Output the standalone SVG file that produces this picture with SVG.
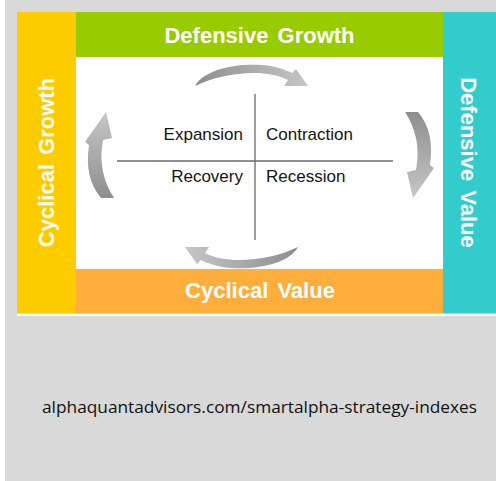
<svg xmlns="http://www.w3.org/2000/svg" width="496" height="481" viewBox="0 0 496 481">
  <style>
    .band { font-family: "Liberation Sans", Arial, sans-serif; font-weight: bold; font-size: 22px; fill: #ffffff; word-spacing: 3px; }
    .phase { font-family: "Liberation Sans", Arial, sans-serif; font-size: 17px; fill: #141414; }
    .url { font-family: "Open Sans", "Noto Sans", sans-serif; font-size: 16px; fill: #111111; }
    .axis { stroke: #6a6a6a; fill: none; }
  </style>
  <defs>
    <linearGradient id="gH" x1="0" y1="0" x2="1" y2="0">
      <stop offset="0" stop-color="#8e8e8e"/>
      <stop offset="1" stop-color="#c6c6c6"/>
    </linearGradient>
    <linearGradient id="gV" x1="0" y1="0" x2="0" y2="1">
      <stop offset="0" stop-color="#8e8e8e"/>
      <stop offset="1" stop-color="#c6c6c6"/>
    </linearGradient>
  </defs>

  <!-- page background -->
  <rect x="0" y="0" width="496" height="481" fill="#ffffff"/>
  <rect x="5" y="0" width="491" height="481" fill="#d9d9d9"/>
  <rect x="17" y="12" width="479" height="304" fill="#ffffff"/>

  <g id="cyclical-growth">
    <rect x="17" y="12" width="59" height="301.5" fill="#ffcc00"/>
    <text class="band" transform="translate(53.5 162.5) rotate(-90)" text-anchor="middle">Cyclical Growth</text>
  </g>
  <g id="defensive-growth">
    <rect x="76" y="12" width="367" height="45" fill="#99cc00"/>
    <text class="band" x="259.5" y="43" text-anchor="middle">Defensive Growth</text>
  </g>
  <g id="defensive-value">
    <rect x="443" y="12" width="53" height="301.5" fill="#33cccc"/>
    <text class="band" transform="translate(461 162.5) rotate(90)" text-anchor="middle">Defensive Value</text>
  </g>
  <g id="cyclical-value">
    <rect x="76" y="269" width="367" height="44.5" fill="#fdae3b"/>
    <text class="band" x="260" y="298" text-anchor="middle">Cyclical Value</text>
  </g>

  <g id="quadrants">
    <line class="axis" x1="255" y1="94" x2="255" y2="240" stroke-width="1.3"/>
    <line class="axis" x1="117" y1="161" x2="393" y2="161" stroke-width="1.6" stroke="#808080"/>
    <g id="expansion"><text class="phase" x="243" y="140" text-anchor="end">Expansion</text></g>
    <g id="contraction"><text class="phase" x="266" y="140">Contraction</text></g>
    <g id="recovery"><text class="phase" x="243" y="182" text-anchor="end">Recovery</text></g>
    <g id="recession"><text class="phase" x="266" y="182">Recession</text></g>
  </g>

  <g id="connectors">
    <path id="arrow-top" fill="url(#gH)" d="M195,86 C203,71 232,63 262,65 C276,66 286,70 292,73 L296,69 L308,86 L284,86 L288,80 C278,75 266,73 255,73 C232,73 212,78 195,86 Z"/>
    <path id="arrow-bottom" fill="url(#gH)" transform="rotate(180 246.5 166.5)" d="M195,86 C203,71 232,63 262,65 C276,66 286,70 292,73 L296,69 L308,86 L284,86 L288,80 C278,75 266,73 255,73 C232,73 212,78 195,86 Z"/>
    <path id="arrow-right" fill="url(#gV)" d="M405,112 L418,112 Q435,132 430,165 L434,168 L413,198 L407,172 L416,170 Q422,138 405,112 Z"/>
    <path id="arrow-left" fill="url(#gV)" transform="rotate(180 259.5 155)" d="M405,112 L418,112 Q435,132 430,165 L434,168 L413,198 L407,172 L416,170 Q422,138 405,112 Z"/>
  </g>

  <g id="footer">
    <text class="url" x="42" y="413" textLength="435" lengthAdjust="spacingAndGlyphs">alphaquantadvisors.com/smartalpha-strategy-indexes</text>
  </g>
</svg>
